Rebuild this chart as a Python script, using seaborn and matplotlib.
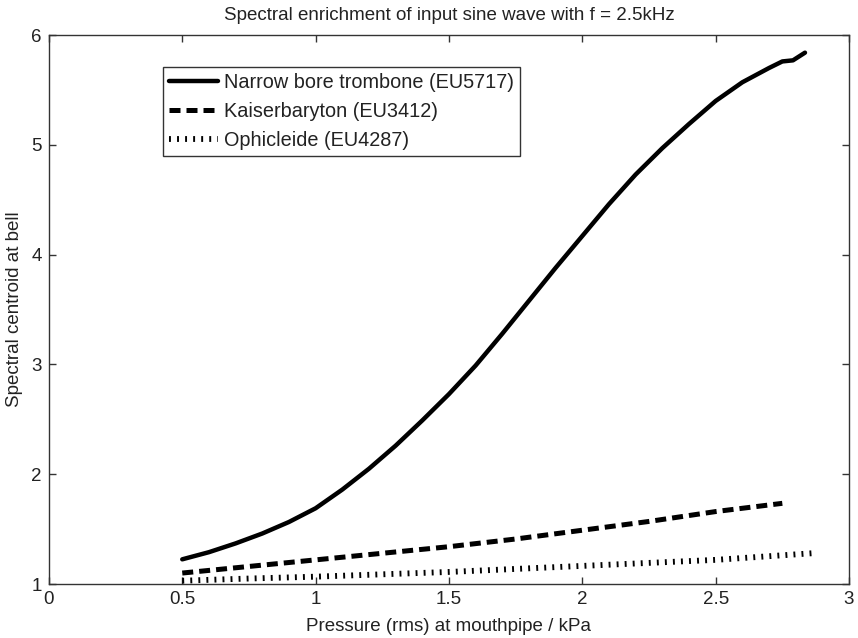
import numpy as np
import matplotlib
matplotlib.use("Agg")
import matplotlib.pyplot as plt
import pandas as pd
import seaborn as sns

# values
trombone_p = [0.50, 0.60, 0.70, 0.80, 0.90, 1.00, 1.10, 1.20, 1.30, 1.40, 1.50, 1.60,
              1.70, 1.80, 1.90, 2.00, 2.10, 2.20, 2.30, 2.40, 2.50, 2.60, 2.70, 2.75,
              2.79, 2.835]
trombone_c = [1.225, 1.29, 1.37, 1.46, 1.565, 1.69, 1.86, 2.05, 2.26, 2.49, 2.73, 2.99,
              3.28, 3.58, 3.88, 4.17, 4.46, 4.73, 4.97, 5.19, 5.40, 5.57, 5.70, 5.76,
              5.77, 5.84]

kaiser_p = [0.50, 0.75, 1.00, 1.25, 1.50, 1.75, 2.00, 2.25, 2.50, 2.75]
kaiser_c = [1.10, 1.16, 1.22, 1.28, 1.34, 1.41, 1.49, 1.57, 1.66, 1.735]

ophi_p = [0.50, 0.75, 1.00, 1.50, 2.00, 2.50, 2.86]
ophi_c = [1.03, 1.05, 1.067, 1.11, 1.165, 1.22, 1.28]

labels = ["Narrow bore trombone (EU5717)", "Kaiserbaryton (EU3412)", "Ophicleide (EU4287)"]
xticks = [0, 0.5, 1, 1.5, 2, 2.5, 3]
xticklabels = ["0", "0.5", "1", "1.5", "2", "2.5", "3"]
yticks = [1, 2, 3, 4, 5, 6]

sns.set_style("white")
plt.rcParams['font.family'] = ['Liberation Sans', 'DejaVu Sans']
fs = 13.5
grey = "#333333"
txt = "#222222"

fig = plt.figure(figsize=(8.58, 6.38), dpi=100)
ax = fig.add_axes([0.057, 0.0846, 0.9895 - 0.057, 0.945 - 0.0846])

df1 = pd.DataFrame({"p": trombone_p, "c": trombone_c})
df2 = pd.DataFrame({"p": kaiser_p, "c": kaiser_c})
df3 = pd.DataFrame({"p": ophi_p, "c": ophi_c})

sns.lineplot(data=df1, x="p", y="c", ax=ax, color="black", lw=3.2,
             label=labels[0], sort=False)
sns.lineplot(data=df2, x="p", y="c", ax=ax, color="black", lw=3.6,
             label=labels[1], sort=False)
sns.lineplot(data=df3, x="p", y="c", ax=ax, color="black", lw=4.2,
             label=labels[2], sort=False)

lines = ax.get_lines()
lines[1].set_dashes([2.2, 1.2])
lines[1].set_dash_capstyle("butt")
lines[2].set_dashes([0.33, 1.05])
lines[2].set_dash_capstyle("butt")

ax.set_xlim(0, 3)
ax.set_ylim(1, 6)
ax.set_xticks(xticks)
ax.set_xticklabels(xticklabels)
ax.set_yticks(yticks)
ax.tick_params(direction="in", length=5, width=1, colors=grey, labelcolor=txt,
               labelsize=fs, top=True, right=True, left=True, bottom=True, pad=5)
for s in ax.spines.values():
    s.set_visible(True)
    s.set_color(grey)
    s.set_linewidth(1)

ax.set_xlabel("Pressure (rms) at mouthpipe / kPa", fontsize=fs, color=txt, labelpad=7)
ax.set_ylabel("Spectral centroid at bell", fontsize=fs, color=txt, labelpad=6)
ax.set_title("Spectral enrichment of input sine wave with f = 2.5kHz", fontsize=fs,
             color=txt, pad=11)

leg = ax.legend(loc="upper left", bbox_to_anchor=(0.1425, 0.942), fontsize=14.3,
                frameon=True, fancybox=False, framealpha=1, edgecolor=grey,
                handlelength=2.46, handletextpad=0.3, borderpad=0.3,
                labelspacing=0.5, borderaxespad=0)
leg.get_frame().set_linewidth(1)
for t in leg.get_texts():
    t.set_color(txt)

fig.savefig("out.png", dpi=100)
